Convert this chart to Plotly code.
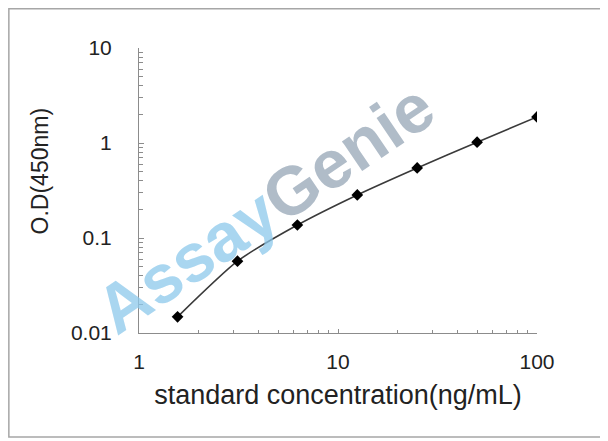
import plotly.graph_objects as go

# standard curve values
concentration = [1.5625, 3.125, 6.25, 12.5, 25, 50, 100]
od_450 = [0.0148, 0.057, 0.137, 0.284, 0.546, 1.02, 1.88]

x_tick_vals = [1, 10, 100]
x_tick_text = ["1", "10", "100"]
y_tick_vals = [0.01, 0.1, 1, 10]
y_tick_text = ["0.01", "0.1", "1", "10"]

x_minor = [m * 10 ** d for d in range(0, 2) for m in range(2, 10)]
y_minor = [m * 10.0 ** d for d in range(-2, 1) for m in range(2, 10)]

FONT = "Liberation Sans, Arial, sans-serif"
AXIS_GREY = "#8c8c8c"
TEXT = "#222222"

fig = go.Figure()
fig.add_trace(go.Scatter(
    x=concentration, y=od_450,
    mode="lines+markers",
    line=dict(color="#3a3a3a", width=1.6, shape="spline", smoothing=0.6),
    marker=dict(symbol="diamond", size=9, color="black"),
    showlegend=False,
))

# watermark
fig.add_annotation(
    x=0.315, y=0.44, xref="paper", yref="paper",
    xanchor="center", yanchor="middle",
    text="<b><span style='color:rgba(140,200,235,0.75)'>Assay</span>"
         "<span style='color:rgba(150,165,182,0.75)'>Genie</span></b>",
    showarrow=False, textangle=-34,
    font=dict(family=FONT, size=68),
)

# y title placed by hand, it sits above the middle of the axis
fig.add_annotation(
    x=-0.249, y=0.57, xref="paper", yref="paper",
    xanchor="center", yanchor="middle",
    text="O.D(450nm)", textangle=-90, showarrow=False,
    font=dict(family=FONT, size=23, color=TEXT),
)

# grey frame round the whole picture
fig.add_shape(
    type="rect", xref="paper", yref="paper",
    x0=-0.327, x1=1.171, y0=-0.365, y1=1.138,
    line=dict(color="#a6a6a6", width=1.5),
)

fig.update_xaxes(
    type="log", range=[0, 2],
    tickvals=x_tick_vals, ticktext=x_tick_text,
    ticks="inside", ticklen=4, tickcolor=AXIS_GREY,
    minor=dict(tickvals=x_minor, ticks="inside", ticklen=3, tickcolor=AXIS_GREY),
    showline=True, linecolor=AXIS_GREY, linewidth=1,
    showgrid=False, zeroline=False,
    ticklabelstandoff=10,
    tickfont=dict(family=FONT, size=21, color=TEXT),
    title=dict(text="standard concentration(ng/mL)", standoff=12,
               font=dict(family=FONT, size=27, color=TEXT)),
)
fig.update_yaxes(
    type="log", range=[-2, 1],
    tickvals=y_tick_vals, ticktext=y_tick_text,
    ticks="inside", ticklen=5, tickcolor=AXIS_GREY,
    minor=dict(tickvals=y_minor, ticks="inside", ticklen=4, tickcolor=AXIS_GREY),
    showline=True, linecolor=AXIS_GREY, linewidth=1,
    showgrid=False, zeroline=False,
    ticklabelstandoff=22,
    tickfont=dict(family=FONT, size=21, color=TEXT),
)

fig.update_layout(
    width=600, height=433,
    margin=dict(l=131, r=71, t=40, b=108),
    paper_bgcolor="white", plot_bgcolor="white",
)

fig.write_html("out.html")
